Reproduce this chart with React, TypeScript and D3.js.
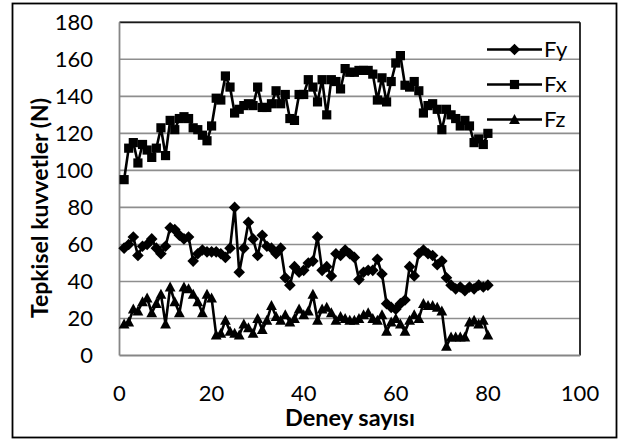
import React from "react";
import * as d3 from "d3";

const xTicks = [0, 20, 40, 60, 80, 100];
const yTicks = [0, 20, 40, 60, 80, 100, 120, 140, 160, 180];

const fy = [58,60,64,54,59,60,63,58,55,59,69,68,65,63,64,51,55,57,56,56,56,55,53,58,80,45,58,72,63,54,65,59,58,55,58,42,38,48,45,46,50,51,64,46,48,43,55,54,57,55,53,41,45,46,46,52,44,28,26,25,28,30,48,43,55,57,55,54,49,51,42,38,36,37,35,37,36,38,37,38];
const fx = [95,112,115,104,114,111,107,112,123,108,127,122,128,129,128,123,122,119,116,124,139,138,151,145,131,133,135,136,135,145,134,134,136,143,136,141,128,127,141,141,149,145,137,149,130,149,148,144,155,153,153,154,154,154,152,138,150,137,148,158,162,146,145,148,143,131,135,136,133,122,133,130,128,124,127,124,115,117,114,120];
const fz = [17,18,25,24,29,31,23,28,33,17,37,29,23,37,36,33,29,23,33,31,11,12,19,13,12,11,17,15,12,20,14,19,27,21,19,22,18,20,25,22,24,33,19,25,26,23,19,21,20,19,19,20,22,23,20,19,22,13,18,20,17,13,19,22,20,28,27,27,26,24,5,10,10,10,10,18,19,17,19,11];

const seriesNames = ["Fy", "Fx", "Fz"];
const seriesData = [fy, fx, fz];

const W = 618, H = 441;
const left = 119.5, right = 580, top = 22.3, bottom = 355.5;

const xScale = d3.scaleLinear().domain([0, 100]).range([left, right]);
const yScale = d3.scaleLinear().domain([0, 180]).range([bottom, top]);

const FONT = "Lato, 'Open Sans', sans-serif";

function markerPath(kind: string): string {
  if (kind === "Fy") return "M0,-5.8L5.8,0L0,5.8L-5.8,0Z";
  if (kind === "Fx") return "M-4.6,-4.6H4.6V4.6H-4.6Z";
  return "M0,-5.6L5.4,4.4L-5.4,4.4Z";
}

export default function App() {
  const line = d3
    .line<number>()
    .x((_, i) => xScale(i + 1))
    .y((d) => yScale(d));

  return (
    <div style={{ position: "fixed", left: 0, top: 0, width: W, height: H, background: "#fff" }}>
      <svg width={W} height={H} style={{ display: "block" }}>
        <rect x={0} y={0} width={W} height={H} fill="#fff" />
        <rect x={12.5} y={3.5} width={604} height={434} fill="none" stroke="#000" strokeWidth={1.8} />
        {yTicks.filter((t) => t > 0).map((t) => (
          <line key={t} x1={left} x2={right} y1={yScale(t)} y2={yScale(t)} stroke="#8e8e8e" strokeWidth={1.6} />
        ))}
        <line x1={left} x2={right} y1={top} y2={top} stroke="#1a1a1a" strokeWidth={1.8} />
        <line x1={right} x2={right} y1={top} y2={bottom} stroke="#1a1a1a" strokeWidth={1.8} />
        <line x1={left} x2={left} y1={top} y2={bottom} stroke="#868686" strokeWidth={1.8} />
        <line x1={left} x2={right} y1={bottom} y2={bottom} stroke="#868686" strokeWidth={1.8} />
        {yTicks.map((t) => (
          <text key={t} x={93} y={yScale(t)} dy="0.36em" textAnchor="end" fontFamily={FONT} fontSize={22} fill="#000">
            {t}
          </text>
        ))}
        {xTicks.map((t) => (
          <text key={t} x={xScale(t)} y={400.5} textAnchor="middle" fontFamily={FONT} fontSize={22} fill="#000">
            {t}
          </text>
        ))}
        <text x={350} y={426} textAnchor="middle" fontFamily={FONT} fontSize={23.5} fontWeight="bold" fill="#000">
          Deney sayısı
        </text>
        <text
          transform={`translate(48,208) rotate(-90)`}
          textAnchor="middle"
          fontFamily={FONT}
          fontSize={23}
          fontWeight="bold"
          fill="#000"
        >
          Tepkisel kuvvetler (N)
        </text>
        {seriesData.map((data, s) => (
          <g key={seriesNames[s]}>
            <path d={line(data) || ""} fill="none" stroke="#000" strokeWidth={2.6} strokeLinejoin="round" />
            {data.map((d, i) => (
              <path key={i} d={markerPath(seriesNames[s])} transform={`translate(${xScale(i + 1)},${yScale(d)})`} fill="#000" />
            ))}
          </g>
        ))}
        {seriesNames.map((name, s) => {
          const y = 49.5 + s * 35;
          return (
            <g key={name}>
              <line x1={487} x2={542} y1={y} y2={y} stroke="#000" strokeWidth={2.6} />
              <path d={markerPath(name)} transform={`translate(514.5,${y})`} fill="#000" />
              <text x={544} y={y} dy="0.36em" fontFamily={FONT} fontSize={22} fill="#000">
                {name}
              </text>
            </g>
          );
        })}
      </svg>
    </div>
  );
}
